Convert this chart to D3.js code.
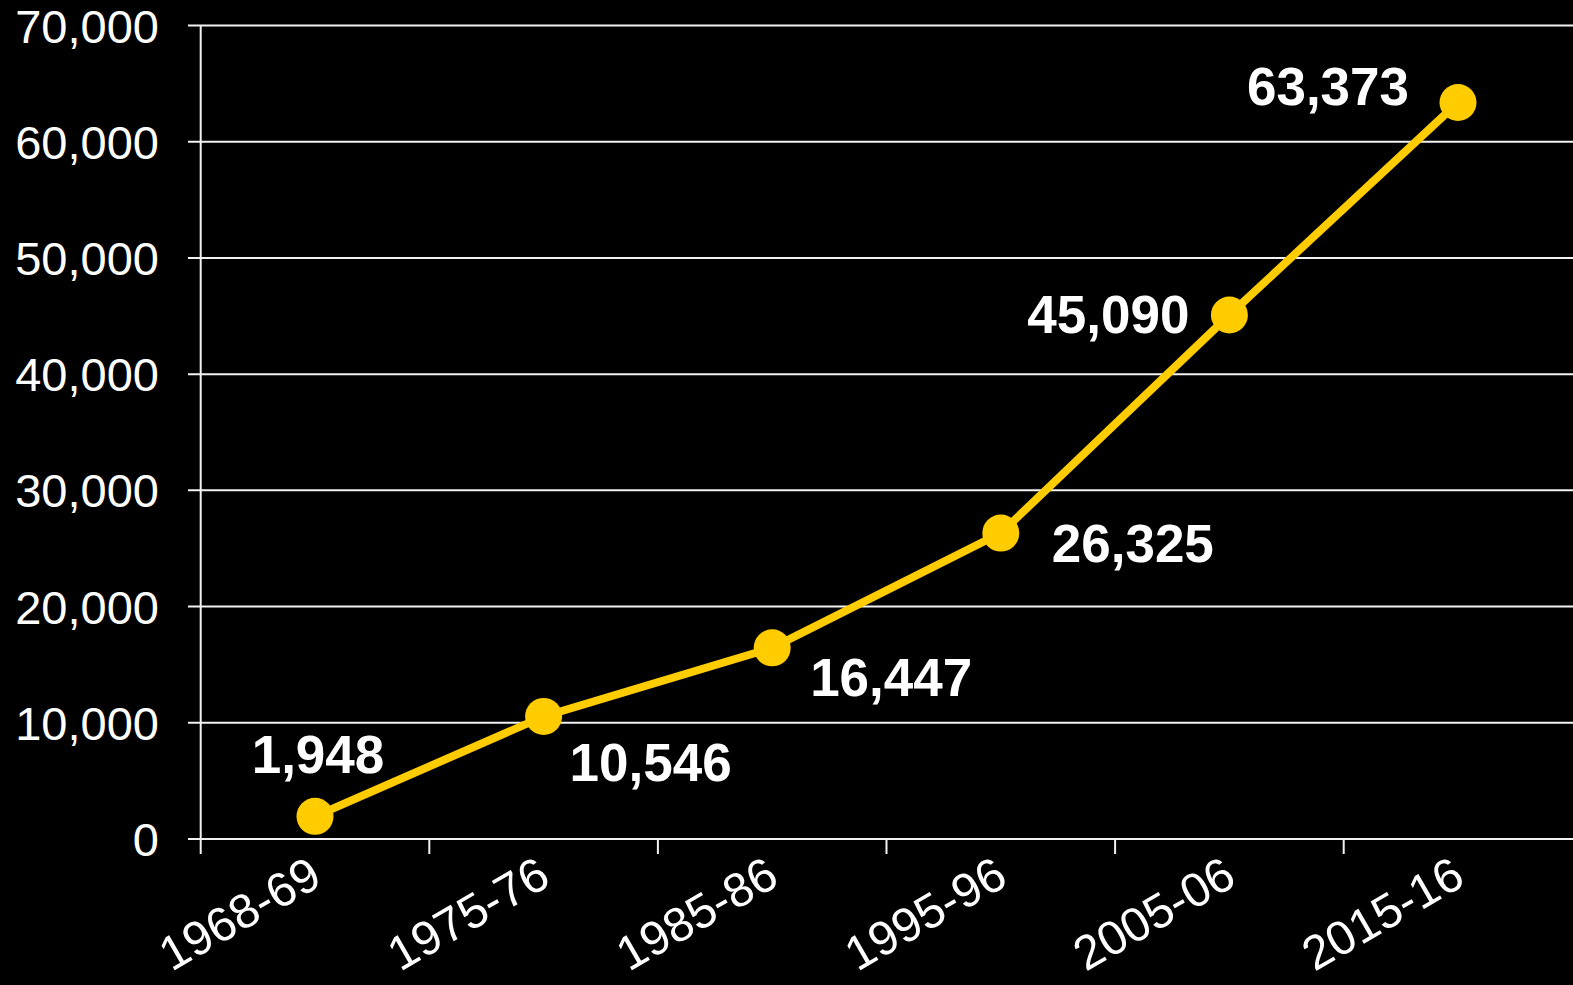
<!DOCTYPE html>
<html>
<head>
<meta charset="utf-8">
<script src="https://cdn.jsdelivr.net/npm/d3@7"></script>
<style>
  html, body { margin: 0; padding: 0; background: #000; }
  svg { display: block; }
  text { font-family: "Liberation Sans", Arial, sans-serif; fill: #fff; }
</style>
</head>
<body>
<script>
// Chart data
var years = ["1968-69", "1975-76", "1985-86", "1995-96", "2005-06", "2015-16"];
var counts = [1948, 10546, 16447, 26325, 45090, 63373];
var yTicks = [0, 10000, 20000, 30000, 40000, 50000, 60000, 70000];

// where each value label sits relative to its point
var labelOffsets = [[3, -43, "middle"], [107, 65, "middle"], [119, 48, "middle"],
    [132, 29, "middle"], [-40, 18, "end"], [-130, 2, "middle"]];

var svg_width = 1573;
var svg_height = 985;

var svg = d3.select("body").append("svg")
    .attr("width", svg_width)
    .attr("height", svg_height);

svg.append("rect")
    .attr("width", svg_width)
    .attr("height", svg_height)
    .attr("fill", "#000");

var x = d3.scaleBand()
    .domain(years)
    .range([200.7, 1572.3]);

var y = d3.scaleLinear()
    .domain([0, 70000])
    .range([839, 25.5]);

// gridlines with the little outward tick on the left
svg.append("g")
    .selectAll("line")
    .data(yTicks)
    .enter().append("line")
    .attr("x1", 188)
    .attr("x2", svg_width)
    .attr("y1", function(d) { return y(d); })
    .attr("y2", function(d) { return y(d); })
    .attr("stroke", "#f2f2f2")
    .attr("stroke-width", 2);

// y tick labels
svg.append("g")
    .selectAll("text")
    .data(yTicks)
    .enter().append("text")
    .attr("x", 159)
    .attr("y", function(d) { return y(d) + 17; })
    .attr("text-anchor", "end")
    .attr("font-size", 47)
    .text(function(d) { return d3.format(",")(d); });

// y axis line
svg.append("line")
    .attr("x1", x.range()[0])
    .attr("x2", x.range()[0])
    .attr("y1", y(70000))
    .attr("y2", 854)
    .attr("stroke", "#f2f2f2")
    .attr("stroke-width", 2);

// x category ticks
svg.append("g")
    .selectAll("line")
    .data(years.slice(1))
    .enter().append("line")
    .attr("x1", function(d) { return x(d); })
    .attr("x2", function(d) { return x(d); })
    .attr("y1", y(0))
    .attr("y2", 854)
    .attr("stroke", "#f2f2f2")
    .attr("stroke-width", 2);

// rotated x labels
svg.append("g")
    .selectAll("text")
    .data(years)
    .enter().append("text")
    .attr("text-anchor", "end")
    .attr("font-size", 48)
    .attr("transform", function(d) {
        return "translate(" + (x(d) + x.bandwidth() / 2 + 9) + "," + 884 + ") rotate(-30)";
    })
    .text(function(d) { return d; });

var points = years.map(function(d, i) {
    return { year: d, value: counts[i], off: labelOffsets[i] };
});

var line = d3.line()
    .x(function(d) { return x(d.year) + x.bandwidth() / 2; })
    .y(function(d) { return y(d.value); });

svg.append("path")
    .datum(points)
    .attr("d", line)
    .attr("fill", "none")
    .attr("stroke", "#ffcc00")
    .attr("stroke-width", 8);

svg.selectAll(".point")
    .data(points)
    .enter().append("circle")
    .attr("class", "point")
    .attr("cx", function(d) { return x(d.year) + x.bandwidth() / 2; })
    .attr("cy", function(d) { return y(d.value); })
    .attr("r", 18.5)
    .attr("fill", "#ffcc00");

// value labels
svg.selectAll(".value")
    .data(points)
    .enter().append("text")
    .attr("class", "value")
    .attr("x", function(d) { return x(d.year) + x.bandwidth() / 2 + d.off[0]; })
    .attr("y", function(d) { return y(d.value) + d.off[1]; })
    .attr("text-anchor", function(d) { return d.off[2]; })
    .attr("font-size", 53)
    .attr("font-weight", "bold")
    .text(function(d) { return d3.format(",")(d.value); });
</script>
</body>
</html>
